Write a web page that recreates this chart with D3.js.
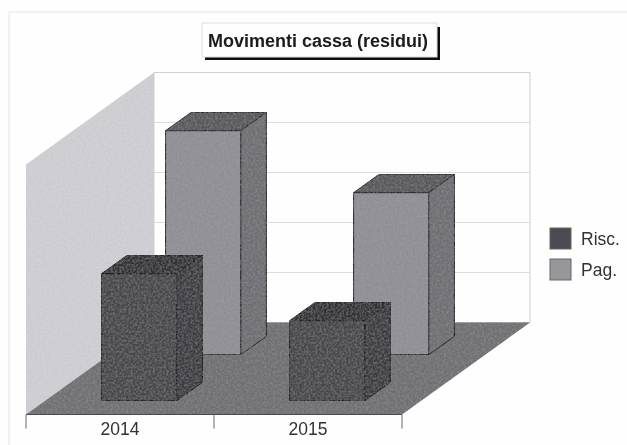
<!DOCTYPE html>
<html>
<head>
<meta charset="utf-8">
<script src="https://cdn.jsdelivr.net/npm/d3@7"></script>
<style>html,body{margin:0;padding:0;background:#fefefe}svg{display:block}text{font-family:"Liberation Sans",Arial,sans-serif}</style>
</head>
<body>
<script>
const titleText = "Movimenti cassa (residui)";
const categories = ["2014", "2015"];
const seriesNames = ["Risc.", "Pag."];
const risc = [2.54, 1.6];
const pag = [4.48, 3.24];
const yTicks = [0, 1, 2, 3, 4, 5];

const W = 627, H = 445;
const svg = d3.select("body").append("svg").attr("width", W).attr("height", H);
const defs = svg.append("defs");
const f = defs.append("filter").attr("id", "scan").attr("x", "-5%").attr("y", "-5%").attr("width", "110%").attr("height", "110%");
f.append("feGaussianBlur").attr("stdDeviation", 0.5);
// fine print-like grain for the shaded surfaces
const gr = defs.append("filter").attr("id", "grain").attr("x", "0%").attr("y", "0%").attr("width", "100%").attr("height", "100%");
gr.append("feTurbulence").attr("type", "fractalNoise").attr("baseFrequency", 0.45).attr("numOctaves", 2).attr("seed", 4).attr("result", "n");
gr.append("feColorMatrix").attr("in", "n").attr("type", "matrix")
  .attr("values", "0 0 0 0 0.45  0 0 0 0 0.45  0 0 0 0 0.47  0.55 0 0 0 -0.2").attr("result", "a");
gr.append("feComposite").attr("in", "a").attr("in2", "SourceAlpha").attr("operator", "in").attr("result", "b");
const gm = gr.append("feMerge");
gm.append("feMergeNode").attr("in", "SourceGraphic");
gm.append("feMergeNode").attr("in", "b");

const x = d3.scaleBand().domain(categories).range([26, 402]).paddingInner(0.6).paddingOuter(0.3);
const depth = d3.scaleBand().domain(seriesNames).range([0, 92]).paddingInner(0.6).paddingOuter(0.3);
const y = d3.scaleLinear().domain([0, 5]).range([0, 250]);
const baseY = 414.5, slant = 128 / 92;
const P = (px, h, d) => [px + d * slant, baseY - h - d];
const poly = pts => d3.line()(pts) + "Z";

const g = svg.append("g").attr("filter", "url(#scan)");

// page frame
g.append("path").attr("d", "M9,445V12H627").attr("fill", "none").attr("stroke", "#e6e6e6");

const xL = x.range()[0], xR = x.range()[1], dMax = depth.range()[1], wallH = y(5);
// back wall
g.append("path").attr("d", poly([P(xL,0,dMax),P(xR,0,dMax),P(xR,wallH,dMax),P(xL,wallH,dMax)]))
  .attr("fill", "#fefefe").attr("stroke", "#cfcfcf");
// gridlines
g.selectAll(".grid").data(yTicks.slice(1,-1)).join("line").attr("class","grid")
  .attr("x1", P(xL,0,dMax)[0]).attr("x2", P(xR,0,dMax)[0])
  .attr("y1", t => P(xL,y(t),dMax)[1]).attr("y2", t => P(xL,y(t),dMax)[1])
  .attr("stroke", "#dcdcdc");
// left wall
g.append("path").attr("d", poly([P(xL,0,0),P(xL,0,dMax),P(xL,wallH,dMax),P(xL,wallH,0)]))
  .attr("fill", "#d0d0d5").attr("filter", "url(#grain)");
// floor
g.append("path").attr("d", poly([P(xL,0,0),P(xR,0,0),P(xR,0,dMax),P(xL,0,dMax)]))
  .attr("fill", "#6f6f73").attr("filter", "url(#grain)");
// axis line and ticks
g.append("line").attr("x1", xL).attr("x2", xR).attr("y1", baseY).attr("y2", baseY).attr("stroke", "#4a4a4a");
const edges = [xL, (xL + xR) / 2, xR];
g.selectAll(".tick").data(edges).join("line").attr("class","tick")
  .attr("x1", d => d).attr("x2", d => d).attr("y1", baseY).attr("y2", baseY + 14).attr("stroke", "#666");

const colors = {
  "Risc.": {front:"#46464c", top:"#333335", side:"#3a3a3f"},
  "Pag.": {front:"#8f8f95", top:"#58585c", side:"#6e6e73"}
};
const rows = [];
seriesNames.forEach((s, si) => categories.forEach((c, ci) => rows.push({s, c, v: (si === 0 ? risc : pag)[ci]})));
rows.sort((a, b) => depth(b.s) - depth(a.s));
rows.forEach(r => {
  const l = x(r.c), rr = l + x.bandwidth(), d0 = depth(r.s), d1 = d0 + depth.bandwidth(), h = y(r.v), col = colors[r.s];
  const bar = g.append("g").attr("stroke", "#1c1c20").attr("stroke-width", 1).attr("stroke-linejoin", "round");
  bar.append("path").attr("d", poly([P(l,h,d0),P(rr,h,d0),P(rr,h,d1),P(l,h,d1)])).attr("fill", col.top).attr("filter", "url(#grain)");
  bar.append("path").attr("d", poly([P(rr,0,d0),P(rr,0,d1),P(rr,h,d1),P(rr,h,d0)])).attr("fill", col.side).attr("filter", "url(#grain)");
  bar.append("path").attr("d", poly([P(l,0,d0),P(rr,0,d0),P(rr,h,d0),P(l,h,d0)])).attr("fill", col.front).attr("filter", "url(#grain)");
});

// category labels
g.selectAll(".cat").data(categories).join("text").attr("class","cat")
  .attr("x", c => x(c) + x.bandwidth() / 2).attr("y", 435).attr("text-anchor", "middle")
  .attr("font-size", 17.5).attr("fill", "#333").text(c => c);

// title
g.append("rect").attr("x", 205).attr("y", 27).attr("width", 235).attr("height", 33).attr("fill", "#111");
g.append("rect").attr("x", 202).attr("y", 23).attr("width", 235).attr("height", 34).attr("fill", "#fefefe").attr("stroke", "#dedede");
g.append("text").attr("x", 318).attr("y", 47).attr("text-anchor", "middle").attr("font-size", 18)
  .attr("font-weight", "bold").attr("fill", "#1a1a1a").text(titleText);

// legend
const legendY = d3.scaleBand().domain(seriesNames).range([228, 290]);
const legendFill = {"Risc.": "#4c4c52", "Pag.": "#96969b"};
seriesNames.forEach(s => {
  g.append("rect").attr("x", 550).attr("y", legendY(s)).attr("width", 21).attr("height", 21)
    .attr("fill", legendFill[s]).attr("stroke", "#666");
  g.append("text").attr("x", 581).attr("y", legendY(s) + 17).attr("font-size", 17.5).attr("fill", "#333").text(s);
});
</script>
</body>
</html>
